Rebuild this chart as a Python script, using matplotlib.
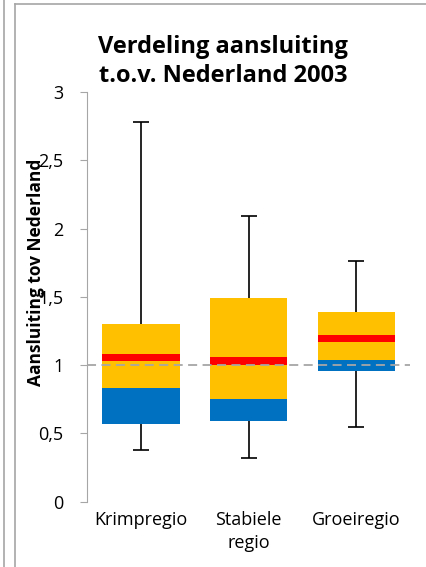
import matplotlib.pyplot as plt
from matplotlib.lines import Line2D
import numpy as np

plt.rcParams['font.family'] = ['Open Sans', 'DejaVu Sans']

regions = ["Krimpregio", "Stabiele\nregio", "Groeiregio"]
minimum = [0.38, 0.32, 0.55]
q1 = [0.57, 0.59, 0.96]
mid = [0.83, 0.755, 1.04]
q3 = [1.30, 1.49, 1.39]
median = [1.055, 1.03, 1.195]
maximum = [2.78, 2.09, 1.765]

yticks = [0, 0.5, 1, 1.5, 2, 2.5, 3]
ytick_labels = ["0", "0,5", "1", "1,5", "2", "2,5", "3"]

fig = plt.figure(figsize=(4.27, 5.67), dpi=100)
ax = fig.add_axes([0.2037, 0.1152, 0.757, 0.7225])

x = np.arange(len(regions))
minimum = np.array(minimum)
q1 = np.array(q1)
mid = np.array(mid)
q3 = np.array(q3)
median = np.array(median)
maximum = np.array(maximum)

# whiskers (behind the boxes)
ax.errorbar(x, median, yerr=[median - minimum, maximum - median], fmt='none',
            ecolor='black', elinewidth=1.2, capsize=6, capthick=1.2, zorder=1)

w = 0.72
ax.bar(x, mid - q1, bottom=q1, width=w, color='#0070C0', zorder=2)
ax.bar(x, q3 - mid, bottom=mid, width=w, color='#FFC000', zorder=2)
ax.bar(x, 0.056, bottom=median - 0.028, width=w, color='#FF0000', zorder=3)

ax.axhline(1, color='#A6A6A6', linestyle=(0, (5, 3)), linewidth=1.3, zorder=4)

ax.set_xlim(-0.5, 2.5)
ax.set_ylim(0, 3)
ax.set_yticks(yticks)
ax.set_yticklabels(ytick_labels, fontsize=13)
ax.set_xticks(x)
ax.set_xticklabels(regions, fontsize=13, linespacing=1.3)
ax.tick_params(axis='x', length=0, pad=7)
ax.tick_params(axis='y', length=5, color='#A6A6A6', pad=12)
for s in ['top', 'right', 'bottom']:
    ax.spines[s].set_visible(False)
ax.spines['left'].set_color('#A6A6A6')

fig.text(0.522, 0.8915, "Verdeling aansluiting\nt.o.v. Nederland 2003", ha='center',
         va='center', fontsize=17, fontweight='bold', linespacing=1.3)
fig.text(0.085, 0.52, "Aansluiting tov Nederland", rotation=90, ha='center',
         va='center', fontsize=12.5, fontweight='bold')

# surrounding frame lines
fig.add_artist(Line2D([15/427, 15/427], [0, 1 - 4/567], transform=fig.transFigure, color='#A6A6A6', lw=1.2))
fig.add_artist(Line2D([15/427, 1], [1 - 4/567, 1 - 4/567], transform=fig.transFigure, color='#A6A6A6', lw=1.2))
fig.add_artist(Line2D([4/427, 4/427], [0, 1], transform=fig.transFigure, color='#A6A6A6', lw=1.2))

fig.savefig("out.png", dpi=100)
